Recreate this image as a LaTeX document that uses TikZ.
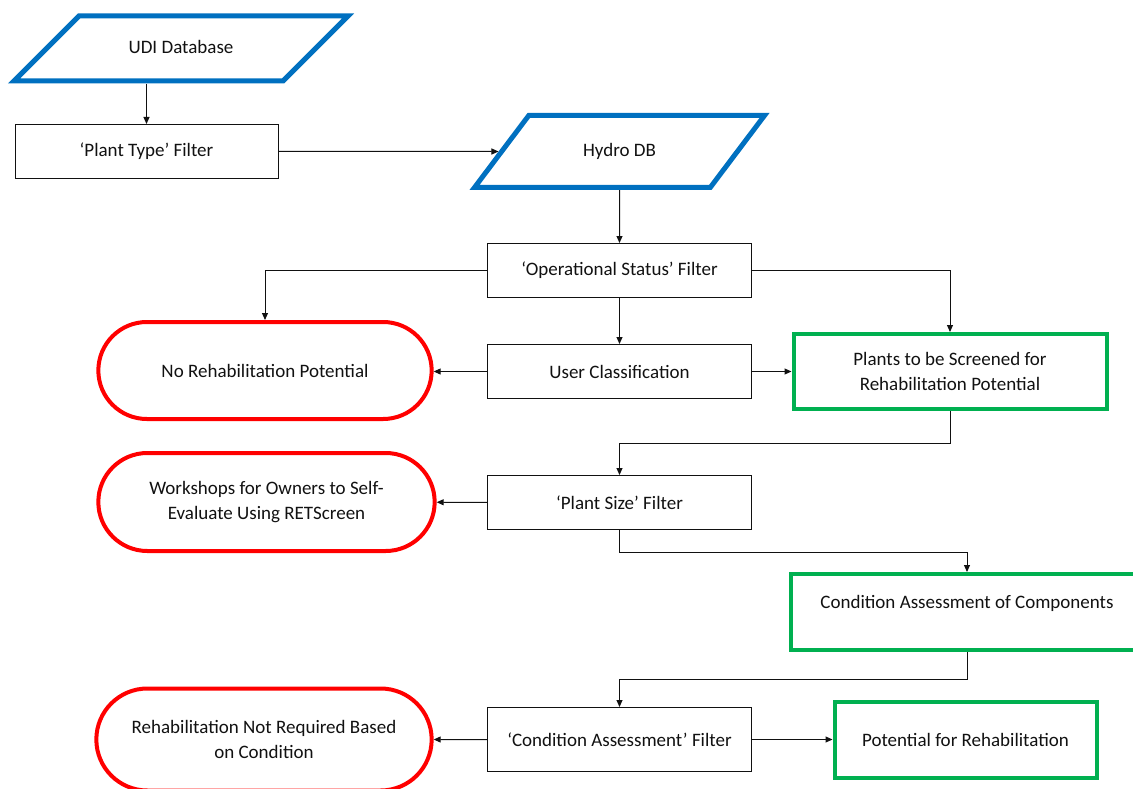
\documentclass[tikz,border=0pt]{standalone}
\usepackage{fontspec}
\setmainfont{Carlito}
\newcommand{\boxfont}{\fontsize{19}{25.5}\selectfont}
\usepackage{tikz}
\usetikzlibrary{arrows.meta,positioning,calc,shapes.geometric,shapes.misc}
\definecolor{db}{HTML}{0070C0}
\definecolor{stop}{HTML}{FF0000}
\definecolor{go}{HTML}{00B050}
\definecolor{ink}{HTML}{111111}
\tikzset{
  blk/.style={draw=ink, line width=1pt, minimum width=264pt,
              minimum height=54pt, inner sep=2pt, align=center,
              font=\boxfont, text=ink},
  % ความสูงของสี่เหลี่ยมด้านขนานมาจาก inner ysep เพื่อให้มุมเอียงคงที่
  dbb/.style={trapezium, trapezium left angle=45, trapezium right angle=135,
              trapezium stretches body, draw=db, line width=5pt,
              text height=14pt, text depth=4pt, inner ysep=23.5pt,
              align=center, font=\boxfont, text=ink},
  endb/.style={rounded rectangle, draw=stop, line width=4pt,
               minimum width=342pt, minimum height=98pt, align=center,
               font=\boxfont, text=ink},
  okb/.style={draw=go, line width=4pt, minimum height=76pt, align=center,
              font=\boxfont, text=ink},
  ar/.style={-{Triangle[length=7pt,width=6pt]}, line width=1pt, draw=ink},
}

\begin{document}
\begin{tikzpicture}[x=1pt, y=-1pt]
  \useasboundingbox (0,0) rectangle (1133,789);
  % แหล่งข้อมูล
  \node[dbb, minimum width=334pt] (udi) at (181,48.5) {UDI Database};
  \node[blk, minimum width=263pt] (ptype) at (146.5,151.5)
       {‘Plant Type’ Filter};
  \node[dbb, trapezium left angle=53, trapezium right angle=127,
        inner ysep=27pt, minimum width=290pt] (hydro) at (619.5,151.5)
       {Hydro DB};

  % ตัวกรองกลางผัง
  \node[blk] (opstat) at (619.5,270.5) {‘Operational Status’ Filter};
  \node[blk] (user) at (619.5,371.5) {User Classification};
  \node[blk] (psize) at (619.5,502.5) {‘Plant Size’ Filter};
  \node[blk, minimum height=64pt] (cfilt) at (619.5,739.5)
       {‘Condition Assessment’ Filter};

  % ผลลัพธ์ด้านซ้าย (สีแดง)
  \node[endb, minimum width=340pt, minimum height=97pt] (norehab) at (265,370.5)
       {No Rehabilitation Potential};
  \node[endb, minimum width=343pt] (workshop) at (266.5,502)
       {Workshops for Owners to Self-\\Evaluate Using RETScreen};
  \node[endb, minimum height=102pt] (notreq) at (264,739.5)
       {Rehabilitation Not Required Based\\on Condition};

  % ผลลัพธ์ด้านขวา (สีเขียว)
  \node[okb, minimum width=313pt, minimum height=75pt] (screen) at (950,371.5)
       {Plants to be Screened for\\Rehabilitation Potential};
  \node[okb, minimum width=352pt] (compon) at (967,612)
       {Condition Assessment of Components\\[-5pt]\mbox{}};
  \node[okb, minimum width=262pt] (potent) at (965.5,739.5)
       {Potential for Rehabilitation};

  \draw[ar] (udi.south -| ptype.north) -- (ptype.north);
  \foreach \a/\b in {ptype/hydro, hydro/opstat, opstat/user, psize/workshop,
                     user/screen, cfilt/notreq, cfilt/potent}
    \draw[ar] (\a) -- (\b);
  \draw[ar] (user.west) -- (user.west -| norehab.east);

  \draw[ar] (opstat.west) -| (norehab.north);
  \draw[ar] (opstat.east) -| (screen.north);
  \draw[ar] (screen.south) -- ++(0,32) -| (psize.north);
  \draw[ar] (psize.south) -- ++(0,22) -| (compon.north);
  \draw[ar] (compon.south) -- ++(0,27) -| (cfilt.north);
\end{tikzpicture}
\end{document}
